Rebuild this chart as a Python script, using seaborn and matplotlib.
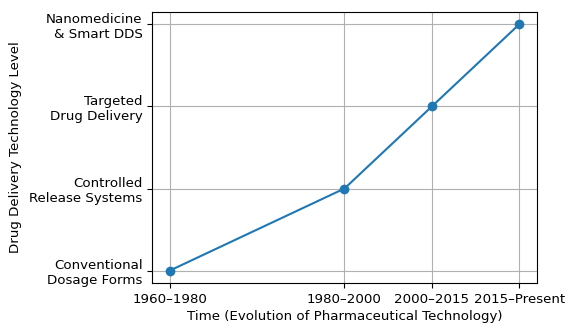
import matplotlib
matplotlib.use("Agg")
import matplotlib.pyplot as plt
import seaborn as sns
import pandas as pd

periods = ["1960–1980", "1980–2000", "2000–2015", "2015–Present"]
period_pos = [1970, 1990, 2000, 2010]
levels = [1, 2, 3, 4]
level_labels = ["Conventional\nDosage Forms", "Controlled\nRelease Systems",
                "Targeted\nDrug Delivery", "Nanomedicine\n& Smart DDS"]

df = pd.DataFrame({"pos": period_pos, "level": levels})

plt.rcParams["font.family"] = ["DejaVu Sans"]
plt.rcParams["font.size"] = 9.6
fig = plt.figure(figsize=(5.68, 3.23), dpi=100)
ax = fig.add_axes([0.268, 0.124, 0.677, 0.839])

sns.lineplot(data=df, x="pos", y="level", marker="o", markersize=7,
             markeredgewidth=0, color="#1f77b4", linewidth=1.5, ax=ax)

ax.set_xticks(period_pos)
ax.set_xticklabels(periods)
ax.set_yticks(levels)
ax.set_yticklabels(level_labels)
ax.tick_params(axis="x", pad=3.5)
ax.grid(True, color="#b0b0b0", linewidth=0.8)
ax.set_axisbelow(True)
ax.set_xlabel("Time (Evolution of Pharmaceutical Technology)", labelpad=3)
ax.set_ylabel("Drug Delivery Technology Level", labelpad=5)

fig.savefig("out.png", dpi=100)
